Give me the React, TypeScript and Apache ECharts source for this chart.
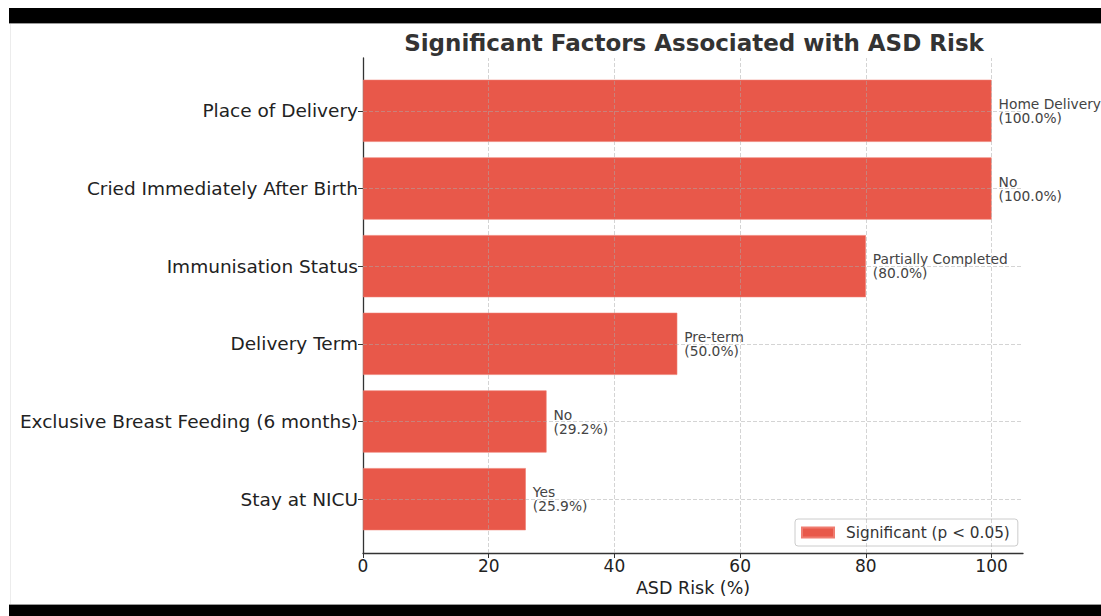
import React, { useEffect, useRef } from "react";
import * as echarts from "echarts";

// Factors found significant, top to bottom
const categories = [
  "Place of Delivery",
  "Cried Immediately After Birth",
  "Immunisation Status",
  "Delivery Term",
  "Exclusive Breast Feeding (6 months)",
  "Stay at NICU",
];
// Level of each factor carrying the risk
const riskLevels = ["Home Delivery", "No", "Partially Completed", "Pre-term", "No", "Yes"];
// ASD risk (%) for that level
const riskValues = [100, 100, 80, 50, 29.2, 25.9];
const xTicks = [0, 20, 40, 60, 80, 100];
const seriesName = "Significant (p < 0.05)";

const FONT = "DejaVu Sans";
const BAR_COLOR = "#e8584a";
const GRID_LINE = "rgba(170,170,170,0.5)";

export default function App() {
  const ref = useRef<HTMLDivElement>(null);

  useEffect(() => {
    if (!ref.current) return;
    const chart = echarts.init(ref.current, undefined, { renderer: "svg" });

    const plotLeft = 363;
    const plotWidth = 660;

    chart.setOption({
      animation: false,
      backgroundColor: "#ffffff",
      textStyle: { fontFamily: FONT },
      title: {
        text: "Significant Factors Associated with ASD Risk",
        left: 689,
        top: 26,
        textAlign: "center",
        textStyle: { fontFamily: FONT, fontSize: 23, fontWeight: "bold", color: "#333333" },
      },
      legend: {
        data: [seriesName],
        left: 795,
        top: 519,
        orient: "horizontal",
        icon: "rect",
        itemWidth: 32,
        itemHeight: 10,
        padding: [6, 8, 6, 6],
        borderColor: "#cccccc",
        borderWidth: 1,
        borderRadius: 3,
        backgroundColor: "rgba(255,255,255,0.9)",
        textStyle: { fontFamily: FONT, fontSize: 15.3, color: "#333333", padding: [0, 0, 0, 7] },
      },
      grid: [
        // bars
        { left: plotLeft, width: plotWidth, top: 72, height: 466 },
        // axes frame
        { left: plotLeft, width: plotWidth, top: 58, height: 495 },
      ],
      xAxis: [
        { gridIndex: 0, type: "value", min: 0, max: 105, show: false },
        {
          gridIndex: 1,
          type: "value",
          min: 0,
          max: 105,
          name: "ASD Risk (%)",
          nameLocation: "middle",
          nameGap: 24,
          nameTextStyle: { fontFamily: FONT, fontSize: 17.5, color: "#222222" },
          axisLine: { show: true, lineStyle: { color: "#333333", width: 1.3 } },
          axisTick: { show: true, length: 5, customValues: xTicks, lineStyle: { color: "#333333" } },
          axisLabel: {
            show: true,
            customValues: xTicks,
            fontFamily: FONT,
            fontSize: 17,
            color: "#222222",
            margin: 4,
          },
          splitLine: { show: false },
        },
      ],
      yAxis: [
        {
          gridIndex: 0,
          type: "category",
          inverse: true,
          data: categories,
          axisLine: { show: false },
          axisTick: { show: true, alignWithLabel: true, length: 5, lineStyle: { color: "#333333" } },
          axisLabel: { fontFamily: FONT, fontSize: 18.5, color: "#222222", margin: 5 },
          splitLine: { show: false },
        },
        {
          gridIndex: 1,
          type: "value",
          min: 0,
          max: 1,
          axisLine: { show: true, lineStyle: { color: "#333333", width: 1.3 } },
          axisTick: { show: false },
          axisLabel: { show: false },
          splitLine: { show: false },
        },
      ],
      series: [
        {
          name: seriesName,
          type: "bar",
          xAxisIndex: 0,
          yAxisIndex: 0,
          data: riskValues,
          barCategoryGap: "20%",
          itemStyle: { color: BAR_COLOR, borderColor: "#ef7c70", borderWidth: 0.6 },
          label: {
            show: true,
            position: "right",
            distance: 7,
            align: "left",
            fontFamily: FONT,
            fontSize: 13.8,
            lineHeight: 14,
            color: "#444444",
            formatter: (p: any) => `${riskLevels[p.dataIndex]}\n(${Number(p.value).toFixed(1)}%)`,
          },
          markLine: {
            silent: true,
            symbol: "none",
            label: { show: false },
            lineStyle: { type: "dashed", color: GRID_LINE, width: 1 },
            data: categories.map((c) => ({ yAxis: c })),
          },
          z: 2,
        },
        {
          // vertical grid lines over the bars (the one at 0 lies under the axis line)
          type: "line",
          xAxisIndex: 1,
          yAxisIndex: 1,
          data: [],
          silent: true,
          markLine: {
            silent: true,
            symbol: "none",
            label: { show: false },
            lineStyle: { type: "dashed", color: GRID_LINE, width: 1 },
            data: xTicks.filter((v) => v > 0).map((v) => ({ xAxis: v })),
          },
          z: 3,
        },
      ],
      graphic: [
        { type: "rect", shape: { x: 9, y: 8, width: 1092, height: 15 }, style: { fill: "#000000" }, silent: true },
        { type: "line", shape: { x1: 9, y1: 23.5, x2: 1101, y2: 23.5 }, style: { stroke: "#9a9a9a", lineWidth: 1 }, silent: true },
        { type: "rect", shape: { x: 9, y: 605, width: 1092, height: 11 }, style: { fill: "#000000" }, silent: true },
        { type: "line", shape: { x1: 9, y1: 604.5, x2: 1101, y2: 604.5 }, style: { stroke: "#9a9a9a", lineWidth: 1 }, silent: true },
        { type: "line", shape: { x1: 10.5, y1: 24, x2: 10.5, y2: 604 }, style: { stroke: "#ececec", lineWidth: 1 }, silent: true },
      ],
    });

    return () => chart.dispose();
  }, []);

  return (
    <div
      ref={ref}
      style={{ position: "fixed", left: 0, top: 0, width: 1101, height: 616 }}
    />
  );
}
